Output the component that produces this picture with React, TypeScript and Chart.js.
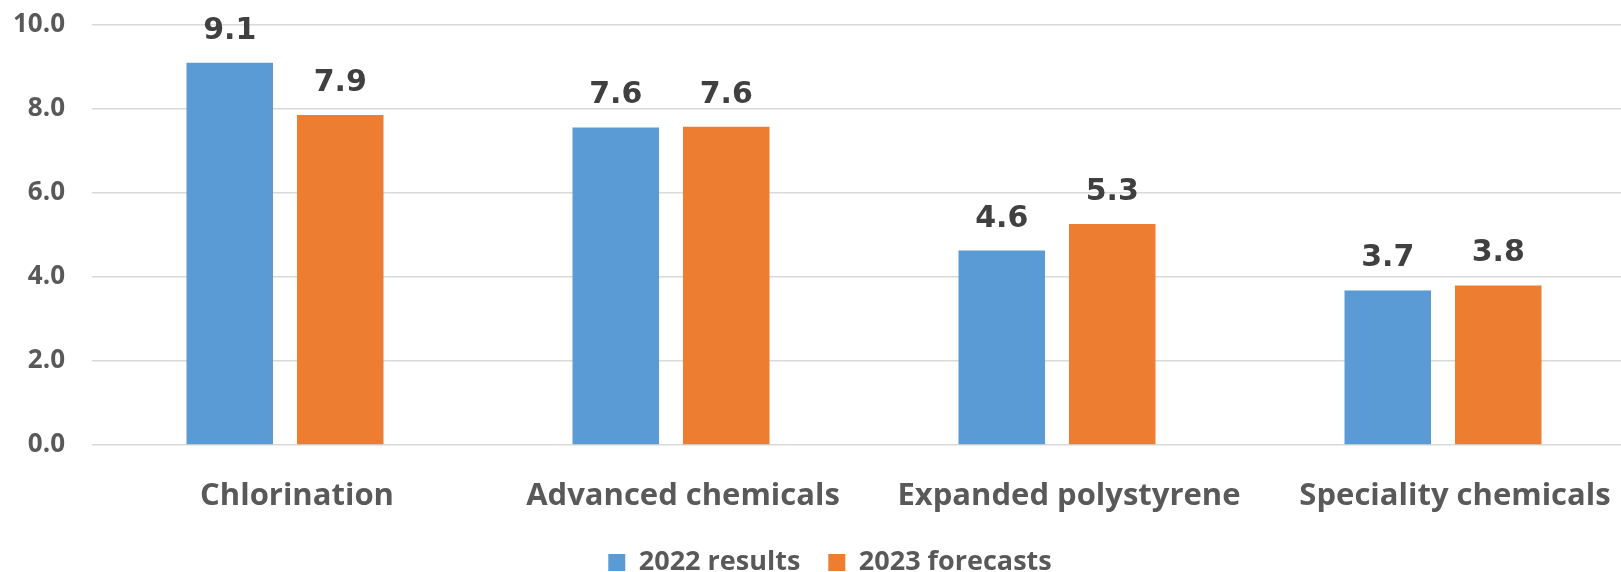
import React, { useEffect, useRef } from "react";
import { Chart, registerables } from "chart.js";

Chart.register(...registerables);

const categories = ["Chlorination", "Advanced chemicals", "Expanded polystyrene", "Speciality chemicals"];
const results2022 = [9.1, 7.56, 4.63, 3.68];
const forecasts2023 = [7.86, 7.58, 5.26, 3.8];
const seriesNames = ["2022 results", "2023 forecasts"];
const yTicks = [0, 2, 4, 6, 8, 10];

const CANVAS_W = 1640;
const CANVAS_H = 586;

const dataLabelPlugin = {
  id: "dataLabels",
  afterDatasetsDraw(chart: any) {
    const ctx = chart.ctx;
    ctx.save();
    ctx.font = "bold 30px 'DejaVu Sans'";
    ctx.fillStyle = "#404040";
    ctx.textAlign = "center";
    ctx.textBaseline = "alphabetic";
    chart.data.datasets.forEach((ds: any, i: number) => {
      const meta = chart.getDatasetMeta(i);
      meta.data.forEach((el: any, j: number) => {
        const v = ds.data[j] as number;
        ctx.fillText(v.toFixed(1), el.x, el.y - 24);
      });
    });
    ctx.restore();
  },
};

const legendShiftPlugin = {
  id: "legendShift",
  afterLayout(chart: any) {
    const l = chart.legend;
    if (l) {
      l.left += 12;
      l.right += 12;
    }
  },
};

export default function App() {
  const ref = useRef<HTMLCanvasElement | null>(null);
  useEffect(() => {
    if (!ref.current) return;
    const chart = new Chart(ref.current, {
      type: "bar",
      data: {
        labels: categories,
        datasets: [
          {
            label: seriesNames[0],
            data: results2022,
            backgroundColor: "#5B9BD5",
            categoryPercentage: 0.5725,
            barPercentage: 0.783,
          },
          {
            label: seriesNames[1],
            data: forecasts2023,
            backgroundColor: "#ED7D31",
            categoryPercentage: 0.5725,
            barPercentage: 0.783,
          },
        ],
      },
      options: {
        responsive: false,
        animation: false,
        devicePixelRatio: 1,
        layout: { padding: { left: 0, right: 4, top: 25, bottom: 0 } },
        plugins: {
          tooltip: { enabled: false },
          legend: {
            position: "bottom",
            labels: {
              boxWidth: 17,
              boxHeight: 17,
              padding: 28,
              color: "#595959",
              font: { family: "'Open Sans'", weight: "bold", size: 27 },
            },
          },
        },
        scales: {
          x: {
            grid: { display: false, drawTicks: false },
            border: { display: false },
            ticks: {
              color: "#595959",
              font: { family: "'Open Sans'", weight: "bold", size: 31 },
              padding: 33,
              labelOffset: 12,
              maxRotation: 0,
              autoSkip: false,
            },
            afterFit: (s: any) => {
              s.height = 76;
            },
          },
          y: {
            min: 0,
            max: 10,
            afterBuildTicks: (s: any) => {
              s.ticks = yTicks.map((v) => ({ value: v }));
            },
            grid: { color: "#d9d9d9", lineWidth: 1.5, drawTicks: false },
            border: { display: false },
            ticks: {
              color: "#595959",
              font: { family: "'Open Sans'", weight: "bold", size: 26 },
              padding: 27,
              callback: (v: any) => Number(v).toFixed(1),
            },
            afterFit: (s: any) => {
              s.width = 92;
              s.paddingTop = 0;
              s.paddingBottom = 0;
            },
          },
        },
      },
      plugins: [dataLabelPlugin, legendShiftPlugin],
    });
    return () => chart.destroy();
  }, []);
  return (
    <div style={{ position: "fixed", left: 0, top: 0, width: 1621, height: 572, overflow: "hidden", background: "#fff" }}>
      <canvas ref={ref} width={CANVAS_W} height={CANVAS_H} style={{ display: "block" }} />
    </div>
  );
}
